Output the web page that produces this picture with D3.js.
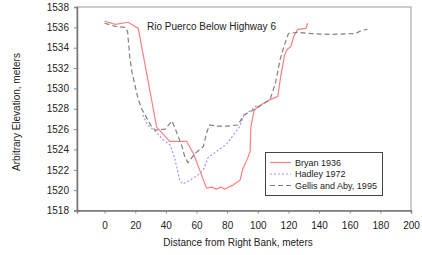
<!DOCTYPE html>
<html><head><meta charset="utf-8">
<script src="https://cdn.jsdelivr.net/npm/d3@7"></script>
<style>body{margin:0;background:#fff}svg{display:block}text{font-family:"Liberation Sans",Arial,sans-serif;fill:#222}</style>
</head><body><svg id="c" width="422" height="255"></svg>
<script>
const title = "Rio Puerco Below Highway 6";
const xLabel = "Distance from Right Bank, meters";
const yLabel = "Arbitrary Elevation, meters";
const xTicks = [0,20,40,60,80,100,120,140,160,180,200];
const yTicks = [1518,1520,1522,1524,1526,1528,1530,1532,1534,1536,1538];
const seriesNames = ["Bryan 1936","Hadley 1972","Gellis and Aby, 1995"];
const bryan1936 = [[0,1536.6],[7,1536.3],[15.5,1536.5],[22,1535.9],[34,1526.2],[42.5,1524.8],[53.5,1524.8],[58,1523.6],[62,1522],[66.5,1520.2],[70,1520.3],[73,1520.1],[76,1520.3],[78.5,1520.1],[84,1520.5],[88.5,1521],[90,1522],[93,1523],[95,1523.8],[95.5,1526.2],[97.5,1527.8],[100,1528.2],[108,1528.9],[113,1529.2],[115,1531.2],[117.5,1533.3],[119,1533.8],[121.5,1534.1],[123.5,1535.1],[126,1535.8],[131.5,1535.9],[132.5,1536.4]];
const hadley1972 = [[25,1527.4],[28,1526.4],[33,1525.8],[38,1525],[43,1524.4],[46,1523],[49,1521],[51,1520.6],[56,1521],[61,1521.5],[64.5,1522],[67.5,1523.2],[73,1523.8],[79.5,1524.5],[84,1525.4],[88,1526.2],[91,1527.4],[95,1527.8],[100,1528.4]];
const gellis1995 = [[0,1536.4],[7,1536.1],[13.5,1536],[15,1535.6],[16.5,1533],[18,1531.5],[20,1530.2],[22,1528.9],[24.5,1527.9],[27.5,1527.1],[30.5,1526.3],[33,1525.9],[39.5,1526],[44,1526.8],[46,1526.1],[48,1525.3],[50.5,1524.3],[52.5,1523.2],[54.5,1522.7],[57,1523.2],[59,1523.6],[64.5,1524.3],[66.5,1525.6],[68.5,1526.4],[73,1526.3],[80,1526.3],[87,1526.4],[91,1527.4],[97.5,1527.9],[108,1528.9],[111.5,1530.5],[114.5,1532.8],[117,1534.1],[120,1535.4],[126,1535.5],[134,1535.4],[147,1535.3],[164,1535.4],[167.5,1535.7],[171.5,1535.8]];

const svg = d3.select("#c");
const L=77, R=411, T=7, B=210.5;
const x = d3.scaleLinear().domain([-18,200]).range([L,R]);
const y = d3.scaleLinear().domain([1518,1538]).range([B,T]);

svg.append("rect").attr("x",L).attr("y",T).attr("width",R-L).attr("height",B-T)
  .attr("fill","none").attr("stroke","#999").attr("stroke-width",1);

const xa = svg.append("g").attr("transform",`translate(0,${B})`)
  .call(d3.axisBottom(x).tickValues(xTicks).tickSize(3).tickPadding(8).tickFormat(d3.format("d")));
const ya = svg.append("g").attr("transform",`translate(${L},0)`)
  .call(d3.axisLeft(y).tickValues(yTicks).tickSize(3).tickPadding(5).tickFormat(d3.format("d")));
[xa,ya].forEach(a=>{
  a.select(".domain").attr("stroke","#777").attr("stroke-width",1.5);
  a.selectAll(".tick line").attr("stroke","#888");
  a.selectAll("text").style("font-size","10px").attr("fill","#333");
});

const line = d3.line().x(d=>x(d[0])).y(d=>y(d[1]));
const styles = [
  {data:bryan1936, color:"#ff8080", dash:null, w:1.2},
  {data:hadley1972, color:"#9a9aff", dash:"2,2", w:1.2},
  {data:gellis1995, color:"#808080", dash:"5,3", w:1.2}
];
styles.forEach(s=>{
  svg.append("path").attr("d",line(s.data)).attr("fill","none")
    .attr("stroke",s.color).attr("stroke-width",s.w).attr("stroke-dasharray",s.dash);
});

svg.append("text").attr("x",147).attr("y",30).style("font-size","10px").text(title);
svg.append("text").attr("x",238).attr("y",246).attr("text-anchor","middle").style("font-size","10px").text(xLabel);
svg.append("text").attr("transform","translate(20,112) rotate(-90)").attr("text-anchor","middle").style("font-size","10px").text(yLabel);

const lg = svg.append("g");
lg.append("rect").attr("x",265.5).attr("y",152.5).attr("width",117).attr("height",43)
  .attr("fill","#fff").attr("stroke","#444").attr("stroke-width",1);
const rows=[162.5,174,185.5];
styles.forEach((s,i)=>{
  lg.append("line").attr("x1",270).attr("x2",291).attr("y1",rows[i]).attr("y2",rows[i])
    .attr("stroke",s.color).attr("stroke-width",s.w).attr("stroke-dasharray",s.dash);
  lg.append("text").attr("x",295).attr("y",rows[i]+3.2).style("font-size","9px").text(seriesNames[i]);
});
</script></body></html>
